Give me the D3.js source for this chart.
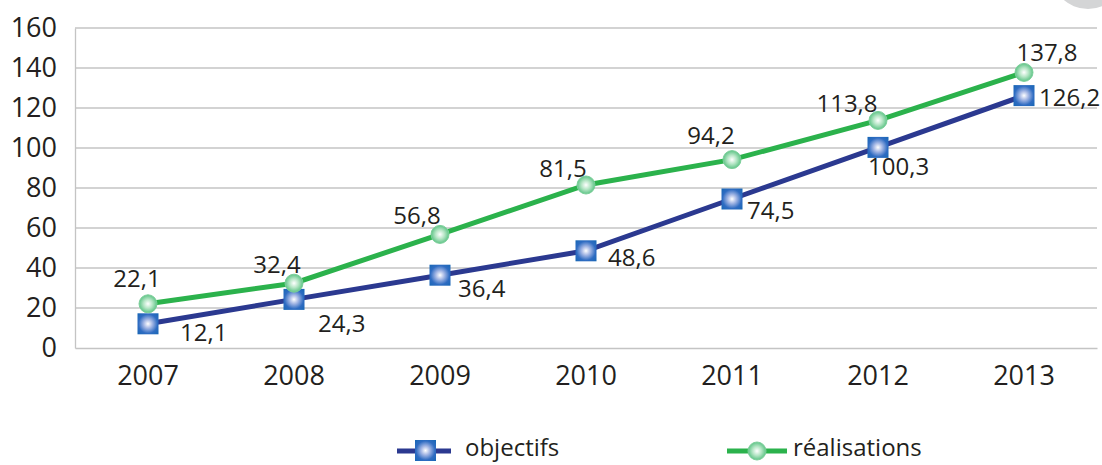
<!DOCTYPE html>
<html>
<head>
<meta charset="utf-8">
<script src="https://cdn.jsdelivr.net/npm/d3@7"></script>
<style>
  html, body { margin: 0; padding: 0; background: #fff; }
  svg { display: block; font-family: "Open Sans", "Liberation Sans", sans-serif; }
</style>
</head>
<body>
<svg id="chart" width="1102" height="465"></svg>
<script>
// Years on the horizontal axis
const years = ["2007", "2008", "2009", "2010", "2011", "2012", "2013"];
// Targets (objectifs) and achievements (réalisations)
const objectifs = [12.1, 24.3, 36.4, 48.6, 74.5, 100.3, 126.2];
const realisations = [22.1, 32.4, 56.8, 81.5, 94.2, 113.8, 137.8];
const yTicks = [0, 20, 40, 60, 80, 100, 120, 140, 160];
const seriesNames = ["objectifs", "réalisations"];

// Label placement relative to each marker (layout only)
const objLabelShift = [[32, 9], [24, 24], [18, 13], [22, 7], [15, 12], [-10, 19], [15, 2]];
const realLabelShift = [[-11, -25], [-17, -19], [-23, -19], [-23, -16], [-21, -24], [-31, -17], [23, -20]];

const fmt = v => d3.format(".1f")(v).replace(".", ",");

const svg = d3.select("#chart");
const defs = svg.append("defs");

const blueGrad = defs.append("radialGradient").attr("id", "gBlue")
  .attr("cx", "50%").attr("cy", "50%").attr("r", "70%");
blueGrad.append("stop").attr("offset", "0%").attr("stop-color", "#ffffff");
blueGrad.append("stop").attr("offset", "30%").attr("stop-color", "#a3b6e4");
blueGrad.append("stop").attr("offset", "65%").attr("stop-color", "#2f6cc2");
blueGrad.append("stop").attr("offset", "100%").attr("stop-color", "#1666b4");

const greenGrad = defs.append("radialGradient").attr("id", "gGreen")
  .attr("cx", "50%").attr("cy", "50%").attr("r", "55%");
greenGrad.append("stop").attr("offset", "0%").attr("stop-color", "#ffffff");
greenGrad.append("stop").attr("offset", "45%").attr("stop-color", "#b6e6c6");
greenGrad.append("stop").attr("offset", "100%").attr("stop-color", "#4dbd7a");

const x = d3.scaleBand().domain(years).range([75, 1097]);
const y = d3.scaleLinear().domain([0, 160]).range([348, 28]);
const cx = d => x(d) + x.bandwidth() / 2;

// decorative grey disc in the corner
svg.append("circle").attr("cx", 1088).attr("cy", -28).attr("r", 37).attr("fill", "#d4d5d6");

// gridlines
svg.append("g").selectAll("line").data(yTicks.slice(1)).join("line")
  .attr("x1", 75).attr("x2", 1097)
  .attr("y1", d => y(d)).attr("y2", d => y(d))
  .attr("stroke", "#c4c4c4").attr("stroke-width", 1.3);

// y axis
const yAxis = svg.append("g").attr("transform", "translate(75,0)")
  .call(d3.axisLeft(y).tickValues(yTicks).tickSize(0).tickPadding(18));
yAxis.select(".domain").attr("stroke", "#c4c4c4").attr("stroke-width", 1.3);
yAxis.selectAll("text").attr("font-size", 27).attr("fill", "#231f20")
  .attr("font-family", "'Open Sans', sans-serif");

// x axis
const xAxis = svg.append("g").attr("transform", "translate(0,348)")
  .call(d3.axisBottom(x).tickSize(0).tickPadding(18));
xAxis.select(".domain").attr("stroke", "#c4c4c4").attr("stroke-width", 1.3);
xAxis.selectAll("text").attr("font-size", 27).attr("fill", "#231f20")
  .attr("font-family", "'Open Sans', sans-serif");

const line = d3.line().x((d, i) => cx(years[i])).y(d => y(d));

// lines
svg.append("path").datum(objectifs).attr("d", line)
  .attr("fill", "none").attr("stroke", "#2b3990").attr("stroke-width", 5);
svg.append("path").datum(realisations).attr("d", line)
  .attr("fill", "none").attr("stroke", "#2bb24c").attr("stroke-width", 5);

// markers
svg.append("g").selectAll("rect").data(objectifs).join("rect")
  .attr("x", (d, i) => cx(years[i]) - 10.5).attr("y", d => y(d) - 10.5)
  .attr("width", 21).attr("height", 21).attr("fill", "url(#gBlue)");
svg.append("g").selectAll("circle").data(realisations).join("circle")
  .attr("cx", (d, i) => cx(years[i])).attr("cy", d => y(d)).attr("r", 9)
  .attr("fill", "url(#gGreen)").attr("stroke", "#7ccf9a").attr("stroke-width", 1);

// value labels
svg.append("g").selectAll("text").data(objectifs).join("text")
  .attr("x", (d, i) => cx(years[i]) + objLabelShift[i][0])
  .attr("y", (d, i) => y(d) + objLabelShift[i][1])
  .attr("dy", "0.35em").attr("text-anchor", "start")
  .attr("font-size", 24).attr("fill", "#231f20").text(fmt);
svg.append("g").selectAll("text").data(realisations).join("text")
  .attr("x", (d, i) => cx(years[i]) + realLabelShift[i][0])
  .attr("y", (d, i) => y(d) + realLabelShift[i][1])
  .attr("dy", "0.35em").attr("text-anchor", "middle")
  .attr("font-size", 24).attr("fill", "#231f20").text(fmt);

// legend
const lg = svg.append("g");
lg.append("line").attr("x1", 397).attr("x2", 451).attr("y1", 451).attr("y2", 451)
  .attr("stroke", "#2b3990").attr("stroke-width", 5);
lg.append("rect").attr("x", 415).attr("y", 440).attr("width", 21).attr("height", 21)
  .attr("fill", "url(#gBlue)");
lg.append("text").attr("x", 465).attr("y", 448).attr("dy", "0.35em")
  .attr("font-size", 24).attr("fill", "#231f20").text(seriesNames[0]);
lg.append("line").attr("x1", 727).attr("x2", 787).attr("y1", 451).attr("y2", 451)
  .attr("stroke", "#2bb24c").attr("stroke-width", 5);
lg.append("circle").attr("cx", 757).attr("cy", 451).attr("r", 9)
  .attr("fill", "url(#gGreen)").attr("stroke", "#7ccf9a").attr("stroke-width", 1);
lg.append("text").attr("x", 793).attr("y", 448).attr("dy", "0.35em")
  .attr("font-size", 24).attr("fill", "#231f20").text(seriesNames[1]);
</script>
</body>
</html>
